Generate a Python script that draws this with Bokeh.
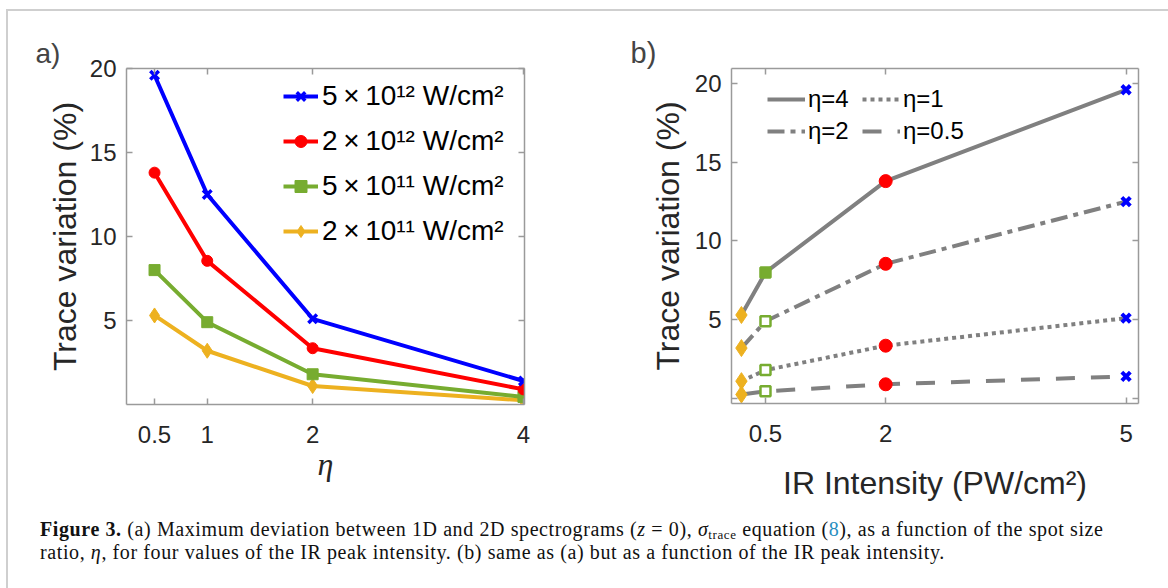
from bokeh.plotting import figure
from bokeh.models import (Legend, LegendItem, LinearAxis, FixedTicker, Range1d, Div, Spacer)
from bokeh.layouts import column, row
from bokeh.embed import file_html
from bokeh.resources import INLINE

# ---------------- data ----------------
eta = [0.5, 1, 2, 4]                      # spot size ratio (panel a x values)
intensity_pw = [0.2, 0.5, 2, 5]           # IR peak intensity (PW/cm^2)
intensity_labels = ["2\u2009\u00d7\u200910\u00b9\u00b9 W/cm\u00b2",
                    "5\u2009\u00d7\u200910\u00b9\u00b9 W/cm\u00b2",
                    "2\u2009\u00d7\u200910\u00b9\u00b2 W/cm\u00b2",
                    "5\u2009\u00d7\u200910\u00b9\u00b2 W/cm\u00b2"]
# trace variation (%) vs eta, one list per intensity
trace_2e11 = [5.3, 3.2, 1.1, 0.25]
trace_5e11 = [8.0, 4.9, 1.8, 0.45]
trace_2e12 = [13.8, 8.55, 3.35, 0.9]
trace_5e12 = [19.6, 12.5, 5.1, 1.4]
traces = [trace_2e11, trace_5e11, trace_2e12, trace_5e12]
# legend labels used in panel b for the columns of the table above
eta_b_labels = [4, 2, 1, 0.5]

xticks_a = [0.5, 1, 2, 4]
xticks_b = [0.5, 2, 5]
yticks_a = [5, 10, 15, 20]
yticks_b = [0, 5, 10, 15, 20]

colors = ["#EDB120", "#77AC30", "#FF0000", "#0000FF"]
markers = ["diamond", "square", "circle", "x"]
eta_dash = {0.5: "19 16", 1: "4 4", 2: "17 6 5 6", 4: "solid"}

FONT = "Liberation Sans"
AXC = "#9a9a9a"
TXT = "#262626"


def style_axes(p, xticks, yticks, xover, yover):
    for ax in p.xaxis + p.yaxis:
        ax.axis_line_color = AXC
        ax.axis_line_width = 1.5
        ax.major_tick_line_color = AXC
        ax.major_tick_line_width = 1.5
        ax.major_tick_in = 6
        ax.major_tick_out = 0
        ax.minor_tick_line_color = None
        ax.major_label_text_font = FONT
        ax.major_label_text_font_size = "24px"
        ax.major_label_text_color = TXT
        ax.axis_label_text_font = FONT
        ax.axis_label_text_font_size = "32px"
        ax.axis_label_text_font_style = "normal"
        ax.axis_label_text_color = TXT
    p.xaxis.ticker = FixedTicker(ticks=xticks)
    p.yaxis.ticker = FixedTicker(ticks=yticks)
    p.xaxis.major_label_overrides = xover
    p.yaxis.major_label_overrides = yover
    p.xaxis.major_label_standoff = 21
    p.yaxis.major_label_standoff = 10
    # box ticks on top/right (no labels)
    top = LinearAxis(ticker=FixedTicker(ticks=xticks))
    right = LinearAxis(ticker=FixedTicker(ticks=yticks))
    for ax in (top, right):
        ax.axis_line_color = AXC
        ax.axis_line_width = 1.5
        ax.major_tick_line_color = AXC
        ax.major_tick_line_width = 1.5
        ax.major_tick_in = 6
        ax.major_tick_out = 0
        ax.minor_tick_line_color = None
        ax.major_label_text_font_size = "1px"
        ax.major_label_text_color = None
        ax.major_label_standoff = 0
    p.add_layout(top, "above")
    p.add_layout(right, "right")
    p.outline_line_color = None
    p.grid.grid_line_color = None
    p.background_fill_color = "white"
    p.border_fill_color = "white"


def fmt(v):
    return ("%g" % v)


# ---------------- panel a ----------------
pa = figure(frame_width=398, frame_height=336,
            min_border_left=118, min_border_right=34,
            min_border_top=55, min_border_bottom=98,
            x_range=Range1d(0.234, 4.01), y_range=Range1d(0, 20),
            output_backend="svg", toolbar_location=None,
            title="a)")
style_axes(pa, xticks_a, yticks_a,
           {float(t): fmt(t) for t in xticks_a},
           {float(t): fmt(t) for t in yticks_a})
xa = pa.below[0]
ya = pa.left[0]
xa.axis_label = "\u03b7"
xa.axis_label_text_font = "Liberation Serif"
xa.axis_label_text_font_style = "italic"
xa.axis_label_standoff = 0
ya.axis_label = "Trace variation (%)"
ya.axis_label_standoff = 4

items_a = []
for i in range(len(traces)):
    ln = pa.line(eta, traces[i], line_color=colors[i], line_width=4)
    if markers[i] == "x":
        mk = pa.scatter(eta, traces[i], marker="x", size=12,
                        line_color=colors[i], line_width=3.5)
    else:
        mk = pa.scatter(eta, traces[i], marker=markers[i],
                        size=15 if markers[i] == "diamond" else 11,
                        fill_color=colors[i], line_color=colors[i], line_width=1)
    items_a.append(LegendItem(label=intensity_labels[i], renderers=[ln, mk]))
items_a = items_a[::-1]
leg_a = Legend(items=items_a, location=(157, 157), padding=0, margin=0,
               spacing=13, glyph_height=30, label_height=30, glyph_width=35,
               label_standoff=4, label_text_font=FONT, label_text_font_size="28px",
               label_text_color="black",
               background_fill_alpha=0, border_line_alpha=0)
pa.add_layout(leg_a)

pa.title.text_font = FONT
pa.title.text_font_size = "28px"
pa.title.text_font_style = "normal"
pa.title.align = "left"
pa.title.offset = -91
pa.title.standoff = 0

# ---------------- panel b ----------------
pb = figure(frame_width=407, frame_height=335,
            min_border_left=173, min_border_right=23,
            min_border_top=57, min_border_bottom=97,
            x_range=Range1d(0.076, 5.155), y_range=Range1d(-0.32, 20.95),
            output_backend="svg", toolbar_location=None,
            title="b)")
yover_b = {float(t): fmt(t) for t in yticks_b}
yover_b[0.0] = ""
style_axes(pb, xticks_b, yticks_b, {float(t): fmt(t) for t in xticks_b}, yover_b)
xb = pb.below[0]
yb = pb.left[0]
xb.axis_label = "IR Intensity (PW/cm\u00b2)"
xb.axis_label_standoff = 20
yb.axis_label = "Trace variation (%)"
yb.axis_label_standoff = 6

line_r = {}
for j in range(len(eta)):
    lab = eta_b_labels[j]
    ys = [traces[i][j] for i in range(len(traces))]
    if eta_dash[lab] == "solid":
        ln = pb.line(intensity_pw, ys, line_color="#808080", line_width=4)
    else:
        ln = pb.line(intensity_pw, ys, line_color="#808080", line_width=4,
                     line_dash=eta_dash[lab])
    line_r[lab] = ln
    for i in range(len(traces)):
        m = markers[i]
        if m == "x":
            pb.scatter([intensity_pw[i]], [ys[i]], marker="x", size=12,
                       line_color=colors[i], line_width=4)
        elif m == "square":
            pb.scatter([intensity_pw[i]], [ys[i]], marker="square", size=10,
                       fill_color=colors[i] if j == 0 else "white",
                       line_color=colors[i], line_width=2.5)
        elif m == "diamond":
            pb.scatter([intensity_pw[i]], [ys[i]], marker="diamond", size=17,
                       fill_color=colors[i], line_color=colors[i], line_width=1)
        else:
            pb.scatter([intensity_pw[i]], [ys[i]], marker="circle", size=13,
                       fill_color=colors[i], line_color=colors[i], line_width=1)

leg_kw = dict(padding=0, margin=0, spacing=4, glyph_height=24, label_height=24,
              glyph_width=38, label_standoff=3, label_text_font=FONT,
              label_text_font_size="24px", label_text_color="black",
              background_fill_alpha=0, border_line_alpha=0)
leg_b1 = Legend(items=[LegendItem(label="\u03b7=4", renderers=[line_r[4]]),
                       LegendItem(label="\u03b7=2", renderers=[line_r[2]])],
                location=(36, 258), **leg_kw)
leg_b2 = Legend(items=[LegendItem(label="\u03b7=1", renderers=[line_r[1]]),
                       LegendItem(label="\u03b7=0.5", renderers=[line_r[0.5]])],
                location=(131, 258), **leg_kw)
pb.add_layout(leg_b1)
pb.add_layout(leg_b2)

pb.title.text_font = FONT
pb.title.text_font_size = "29px"
pb.title.text_font_style = "normal"
pb.title.align = "left"
pb.title.offset = -101
pb.title.standoff = 0

# ---------------- caption ----------------
cap_html = (
    '<div style="font-family:\'Liberation Serif\';font-size:20px;line-height:23px;'
    'letter-spacing:0.6px;color:#111;padding-left:27px;padding-top:10px;white-space:nowrap;">'
    '<b>Figure 3.</b> (a) Maximum deviation between 1D and 2D spectrograms '
    '(<i>z</i> = 0), <i>\u03c3</i><span style="font-size:13px;line-height:0;'
    'vertical-align:-3px">trace</span> equation '
    '(<span style="color:#2a8fc0">8</span>), as a function of the spot size<br>'
    'ratio, <i>\u03b7</i>, for four values of the IR peak intensity. '
    '(b) same as (a) but as a function of the IR peak intensity.</div>'
)
cap = Div(text=cap_html, width=1153, height=76)

framed = column(row(pa, pb), cap,
                styles={"border-top": "2px solid #cfcfcf",
                        "border-left": "2px solid #cfcfcf",
                        "border-right": "2px solid #cfcfcf"})
layout = column(Spacer(height=9), row(Spacer(width=6), framed))

open("out.html", "w").write(file_html(layout, INLINE))
